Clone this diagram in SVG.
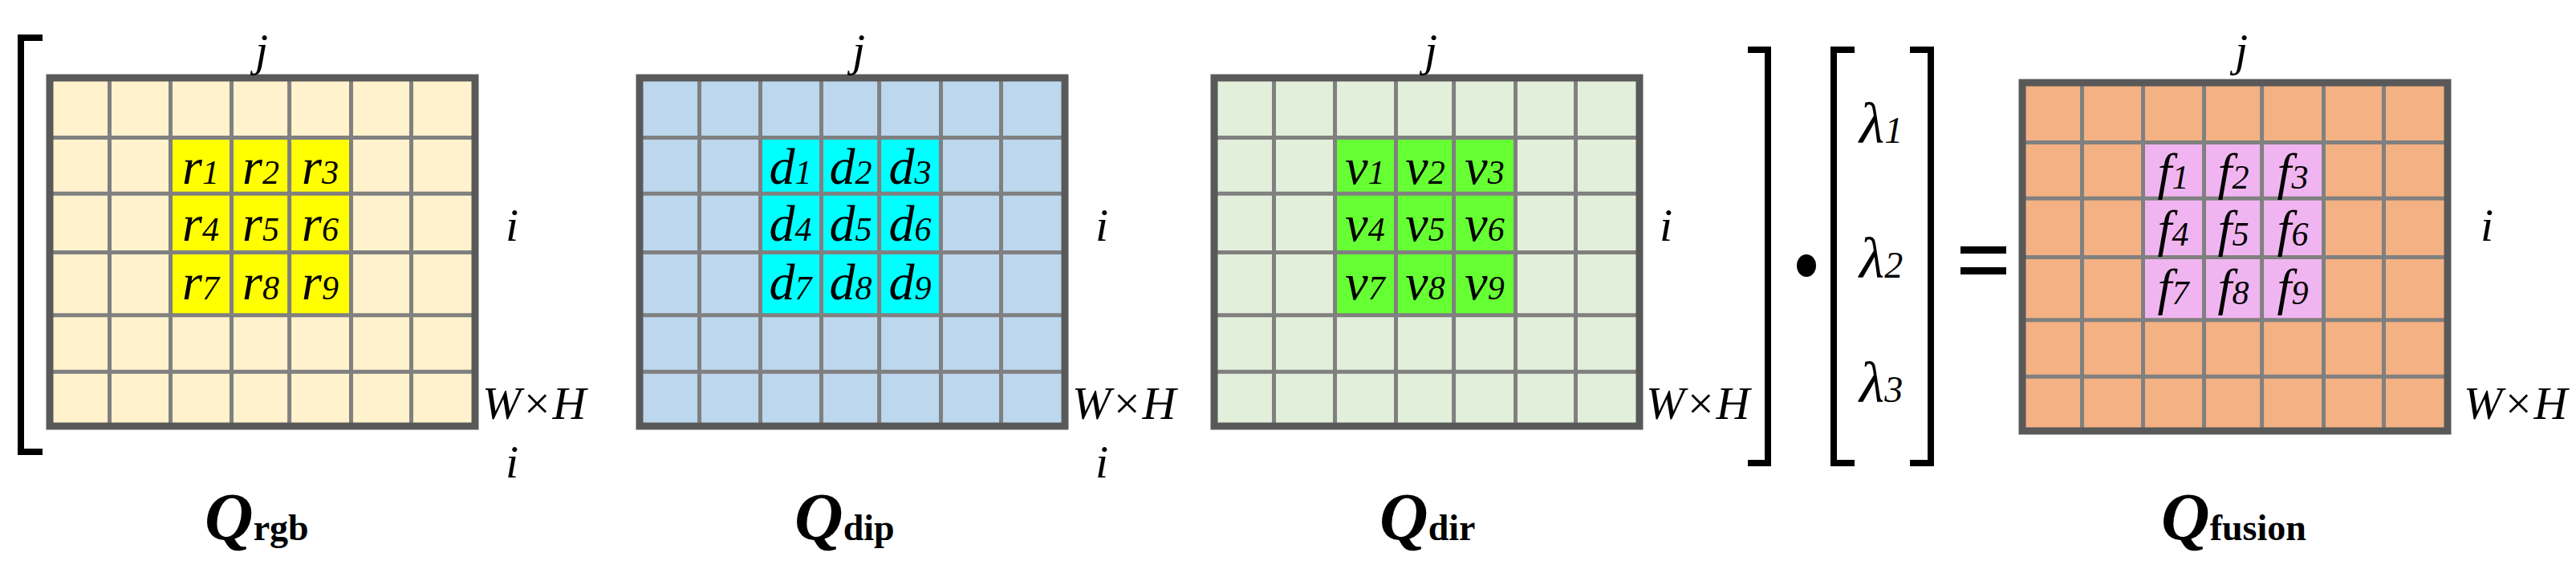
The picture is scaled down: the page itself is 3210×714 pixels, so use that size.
<svg xmlns="http://www.w3.org/2000/svg" width="3210" height="714" viewBox="0 0 3210 714">
<style>
.bd{fill:none;stroke:#595959;stroke-width:9}
.gl{stroke:#808080;stroke-width:5}
.rb{fill:none;stroke:#ff0000;stroke-width:3}
.t{font-family:"Liberation Serif",serif;font-style:italic;fill:#000}
.c{font-size:64px;text-anchor:middle}
.s{font-size:42px}
.l{font-size:58px}
.q{font-family:"Liberation Serif",serif;font-style:italic;font-weight:bold;font-size:84px}
.qs{font-style:normal;font-size:46px}
.br{fill:none;stroke:#000;stroke-width:8}
</style>
<defs>
<g id="lines">
<path class="gl" d="M74.5 0V434M150.5 0V434M226.5 0V434M298.6 0V434M375.5 0V434M450.5 0V434M0 74.6H530M0 144.2H530M0 217.4H530M0 295.7H530M0 366.2H530"/>
</g>
</defs>
<g id="qrgb" transform="translate(62,97)">
<rect width="530" height="434" fill="#FFF2CC"/>
<rect x="150.5" y="74.6" width="225" height="221" fill="#FFFF00"/>
<rect class="rb" x="150.5" y="74.6" width="225" height="221"/>
<use href="#lines"/>
<rect class="bd" width="530" height="434"/>
<g class="t c">
<text x="188" y="132">r<tspan class="s">1</tspan></text><text x="263" y="132">r<tspan class="s">2</tspan></text><text x="337" y="132">r<tspan class="s">3</tspan></text>
<text x="188" y="203">r<tspan class="s">4</tspan></text><text x="263" y="203">r<tspan class="s">5</tspan></text><text x="337" y="203">r<tspan class="s">6</tspan></text>
<text x="188" y="276">r<tspan class="s">7</tspan></text><text x="263" y="276">r<tspan class="s">8</tspan></text><text x="337" y="276">r<tspan class="s">9</tspan></text>
</g>
</g>
<g id="qdip" transform="translate(797,97)">
<rect width="530" height="434" fill="#BDD7EE"/>
<rect x="150.5" y="74.6" width="225" height="221" fill="#00FFFF"/>
<rect class="rb" x="150.5" y="74.6" width="225" height="221"/>
<use href="#lines"/>
<rect class="bd" width="530" height="434"/>
<g class="t c">
<text x="188" y="132">d<tspan class="s">1</tspan></text><text x="263" y="132">d<tspan class="s">2</tspan></text><text x="337" y="132">d<tspan class="s">3</tspan></text>
<text x="188" y="203">d<tspan class="s">4</tspan></text><text x="263" y="203">d<tspan class="s">5</tspan></text><text x="337" y="203">d<tspan class="s">6</tspan></text>
<text x="188" y="276">d<tspan class="s">7</tspan></text><text x="263" y="276">d<tspan class="s">8</tspan></text><text x="337" y="276">d<tspan class="s">9</tspan></text>
</g>
</g>
<g id="qdir" transform="translate(1513,97)">
<rect width="530" height="434" fill="#E2EFDA"/>
<rect x="150.5" y="74.6" width="225" height="221" fill="#66FF33"/>
<rect class="rb" x="150.5" y="74.6" width="225" height="221"/>
<use href="#lines"/>
<rect class="bd" width="530" height="434"/>
<g class="t c">
<text x="188" y="132">v<tspan class="s">1</tspan></text><text x="263" y="132">v<tspan class="s">2</tspan></text><text x="337" y="132">v<tspan class="s">3</tspan></text>
<text x="188" y="203">v<tspan class="s">4</tspan></text><text x="263" y="203">v<tspan class="s">5</tspan></text><text x="337" y="203">v<tspan class="s">6</tspan></text>
<text x="188" y="276">v<tspan class="s">7</tspan></text><text x="263" y="276">v<tspan class="s">8</tspan></text><text x="337" y="276">v<tspan class="s">9</tspan></text>
</g>
</g>
<g id="qfusion" transform="translate(2520,103)">
<rect width="530" height="434" fill="#F4B183"/>
<rect x="150.5" y="74.6" width="225" height="221" fill="#F0B5F0"/>
<rect class="rb" x="150.5" y="74.6" width="225" height="221"/>
<use href="#lines"/>
<rect class="bd" width="530" height="434"/>
<g class="t c">
<text x="188" y="132">f<tspan class="s">1</tspan></text><text x="263" y="132">f<tspan class="s">2</tspan></text><text x="337" y="132">f<tspan class="s">3</tspan></text>
<text x="188" y="203">f<tspan class="s">4</tspan></text><text x="263" y="203">f<tspan class="s">5</tspan></text><text x="337" y="203">f<tspan class="s">6</tspan></text>
<text x="188" y="276">f<tspan class="s">7</tspan></text><text x="263" y="276">f<tspan class="s">8</tspan></text><text x="337" y="276">f<tspan class="s">9</tspan></text>
</g>
</g>
<g id="labels" class="t l">
<text x="318" y="82">j</text><text x="630" y="300">i</text><text x="601" y="522">W×H</text><text x="630" y="595">i</text>
<text x="1062" y="82">j</text><text x="1365" y="300">i</text><text x="1336" y="522">W×H</text><text x="1365" y="595">i</text>
<text x="1775" y="82">j</text><text x="2068" y="300">i</text><text x="2051" y="522">W×H</text>
<text x="2785" y="82">j</text><text x="3091" y="300">i</text><text x="3070" y="522">W×H</text>
</g>
<g id="titles">
<text class="q" x="255" y="673">Q<tspan class="qs">rgb</tspan></text>
<text class="q" x="990" y="673">Q<tspan class="qs">dip</tspan></text>
<text class="q" x="1719" y="673">Q<tspan class="qs">dir</tspan></text>
<text class="q" x="2693" y="673">Q<tspan class="qs">fusion</tspan></text>
</g>
<g id="operators">
<path class="br" d="M53 47H26V563H53"/>
<path class="br" d="M2178 62H2203V577H2178"/>
<path class="br" d="M2311 62H2285V577H2311"/>
<path class="br" d="M2380 62H2406V577H2380"/>
<ellipse cx="2251" cy="331" rx="12" ry="14" fill="#000"/>
<rect x="2443" y="307" width="57" height="9" fill="#000"/>
<rect x="2443" y="333" width="57" height="9" fill="#000"/>
<g class="t" font-size="72">
<text x="2317" y="178">λ<tspan font-size="46">1</tspan></text>
<text x="2317" y="346">λ<tspan font-size="46">2</tspan></text>
<text x="2317" y="501">λ<tspan font-size="46">3</tspan></text>
</g>
</g>
</svg>
